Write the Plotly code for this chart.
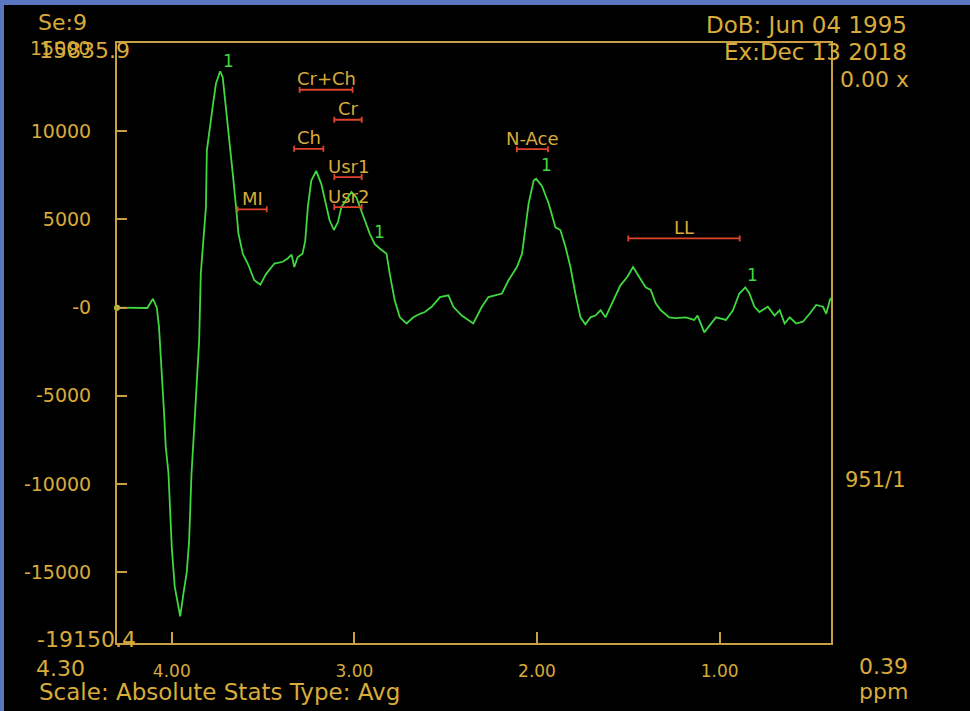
import plotly.graph_objects as go

# ---------------- data ----------------
ppm = [4.30, 4.134, 4.103, 4.082, 4.070, 4.060, 4.051, 4.042, 4.033, 4.018, 4.009, 4.000,
       3.984, 3.954, 3.936, 3.918, 3.905, 3.892, 3.877, 3.859, 3.850, 3.841, 3.813, 3.808,
       3.795, 3.776, 3.758, 3.735, 3.721, 3.703, 3.685, 3.666, 3.648, 3.635, 3.611, 3.584,
       3.548, 3.515, 3.484, 3.438, 3.392, 3.364, 3.344, 3.329, 3.311, 3.284, 3.269, 3.255,
       3.236, 3.209, 3.181, 3.154, 3.136, 3.112, 3.090, 3.071, 3.044, 3.016, 2.989, 2.971,
       2.943, 2.916, 2.888, 2.861, 2.824, 2.806, 2.779, 2.751, 2.714, 2.677, 2.641, 2.614,
       2.577, 2.531, 2.485, 2.458, 2.412, 2.349, 2.302, 2.266, 2.220, 2.192, 2.156, 2.110,
       2.082, 2.064, 2.046, 2.018, 2.005, 1.973, 1.936, 1.899, 1.872, 1.844, 1.817, 1.790,
       1.762, 1.735, 1.707, 1.680, 1.652, 1.625, 1.588, 1.544, 1.505, 1.474, 1.441, 1.405,
       1.377, 1.350, 1.322, 1.276, 1.240, 1.185, 1.139, 1.121, 1.084, 1.047, 1.020, 0.965,
       0.927, 0.892, 0.859, 0.837, 0.809, 0.782, 0.736, 0.699, 0.671, 0.644, 0.616, 0.581,
       0.544, 0.507, 0.471, 0.434, 0.416, 0.397, 0.390]
intensity = [0, -20, 500, 0, -1100, -2800, -4100, -6000, -7900, -9400, -11500, -13600,
             -15800, -17500, -16200, -15000, -13200, -9400, -6800, -3900, -1850, 1950, 5700, 8900,
             10000, 11400, 12700, 13400, 13050, 11350, 9450, 7600, 5700, 4200, 3050, 2500,
             1550, 1300, 1900, 2500, 2600, 2800, 3000, 2300, 2850, 3050, 3800, 5700,
             7200, 7750, 7000, 5700, 4950, 4400, 4850, 5700, 6150, 6550, 6250, 5700,
             4950, 4200, 3600, 3350, 3050, 1900, 400, -550, -900, -550, -350, -250,
             50, 600, 700, 50, -450, -900, 50, 600, 700, 800, 1550, 2300,
             3050, 4550, 5900, 7200, 7300, 6900, 5900, 4550, 4400, 3450, 2300, 800,
             -550, -950, -550, -450, -150, -550, 300, 1250, 1750, 2300, 1750, 1150,
             1000, 250, -150, -550, -600, -550, -700, -450, -1400, -900, -550, -700,
             -150, 800, 1150, 800, 50, -250, 50, -450, -150, -900, -550, -900,
             -800, -350, 150, 50, -350, 400, 550]

metab_names = ["Cr+Ch", "Cr", "Ch", "Usr1", "Usr2", "MI", "N-Ace", "LL"]
metab_start = [3.30, 3.11, 3.33, 3.11, 3.11, 3.64, 2.11, 1.50]
metab_end = [3.01, 2.96, 3.17, 2.96, 2.96, 3.48, 1.94, 0.89]
metab_level = [12350, 10650, 9000, 7400, 5700, 5570, 8980, 3920]

peak_ppm = [3.69, 2.86, 1.95, 0.82]
peak_val = [14000, 4260, 8060, 1830]
peak_text = ["1", "1", "1", "1"]

x_tickvals = [4, 3, 2, 1]
x_ticktext = ["4.00", "3.00", "2.00", "1.00"]
y_tickvals = [10000, 5000, 0, -5000, -10000, -15000]
y_ticktext = ["10000", "5000", "-0", "-5000", "-10000", "-15000"]
y_top_label = "15000"
x_range = [4.30, 0.39]
y_range = [-19010, 15000]

# ---------------- styling ----------------
GOLD = "#d8ab3a"
FRAME = "#c99e45"
GREEN = "#3fd83f"
RED = "#e0432c"
BLUE = "#5a76c0"
FONT = "DejaVu Sans"

W, H = 970, 711
L, R, T, B = 117, 831, 43, 643


def px(x):
    return (x - L) / (R - L)


def py(y):
    return (B - y) / (B - T)


fig = go.Figure()

fig.add_trace(go.Scatter(
    x=ppm, y=intensity, mode="lines",
    line=dict(color=GREEN, width=1.8), hoverinfo="skip", showlegend=False))

fig.add_trace(go.Scatter(
    x=[ppm[0]], y=[intensity[0]], mode="markers",
    marker=dict(color="#b5d03c", size=6), hoverinfo="skip", showlegend=False, cliponaxis=False))

centers = [(s + e) / 2 for s, e in zip(metab_start, metab_end)]
halfw = [abs(s - e) / 2 for s, e in zip(metab_start, metab_end)]
fig.add_trace(go.Scatter(
    x=centers, y=metab_level, mode="markers",
    marker=dict(size=1, color="rgba(0,0,0,0)"),
    error_x=dict(type="data", array=halfw, symmetric=True, color=RED, thickness=1.8, width=3),
    hoverinfo="skip", showlegend=False))

annotations = []
for name, c, lv in zip(metab_names, centers, metab_level):
    annotations.append(dict(x=c, y=lv, xref="x", yref="y", text=name, showarrow=False,
                            yshift=11, yanchor="middle", xanchor="center",
                            font=dict(family=FONT, size=18, color=GOLD)))
for pxv, pv, t in zip(peak_ppm, peak_val, peak_text):
    annotations.append(dict(x=pxv, y=pv, xref="x", yref="y", text=t, showarrow=False,
                            yanchor="middle", xanchor="center",
                            font=dict(family=FONT, size=17, color=GREEN)))


def paper_text(text, x, y, anchor, size=22):
    annotations.append(dict(x=px(x), y=py(y), xref="paper", yref="paper", text=text,
                            showarrow=False, xanchor=anchor, yanchor="middle",
                            font=dict(family=FONT, size=size, color=GOLD)))


paper_text("Se:9", 36, 23, "left")
paper_text(y_top_label, 92, 48, "right", 19)
paper_text("15835.9", 37, 50, "left")
paper_text("-19150.4", 35, 639, "left")
paper_text("4.30", 34, 668, "left")
paper_text("Scale: Absolute Stats Type: Avg", 37, 692, "left", 23)
paper_text("DoB: Jun 04 1995", 909, 25, "right", 23)
paper_text("Ex:Dec 13 2018", 909, 52, "right", 23)
paper_text("0.00 x", 911, 79, "right")
paper_text("951/1", 843, 480, "left", 21)
paper_text("0.39", 910, 666, "right")
paper_text("ppm", 910, 692, "right")

shapes = [
    dict(type="rect", xref="paper", yref="paper", x0=px(0), x1=px(W), y0=py(5), y1=py(0),
         fillcolor=BLUE, line=dict(width=0), layer="above"),
    dict(type="rect", xref="paper", yref="paper", x0=px(0), x1=px(4), y0=py(H), y1=py(0),
         fillcolor=BLUE, line=dict(width=0), layer="above"),
]

fig.update_layout(
    width=W, height=H,
    margin=dict(l=L, r=W - R, t=T, b=H - B, pad=0),
    paper_bgcolor="black", plot_bgcolor="black",
    font=dict(family=FONT, color=GOLD),
    showlegend=False, hovermode=False,
    annotations=annotations, shapes=shapes,
    xaxis=dict(range=x_range, tickmode="array", tickvals=x_tickvals, ticktext=x_ticktext,
               ticks="inside", ticklen=11, tickwidth=1.5, tickcolor=FRAME,
               showline=True, linecolor=FRAME, linewidth=2, mirror=True,
               showgrid=False, zeroline=False, ticklabelstandoff=12,
               tickfont=dict(family=FONT, size=17, color=GOLD)),
    yaxis=dict(range=y_range, tickmode="array", tickvals=y_tickvals, ticktext=y_ticktext,
               ticks="inside", ticklen=10, tickwidth=1.5, tickcolor=FRAME,
               showline=True, linecolor=FRAME, linewidth=2, mirror=True,
               showgrid=False, zeroline=False, ticklabelstandoff=20,
               tickfont=dict(family=FONT, size=19, color=GOLD)),
)

fig.write_html(
    "out.html",
    config={"displayModeBar": False},
    post_script="document.body.style.margin='0';document.body.style.overflow='hidden';",
)
